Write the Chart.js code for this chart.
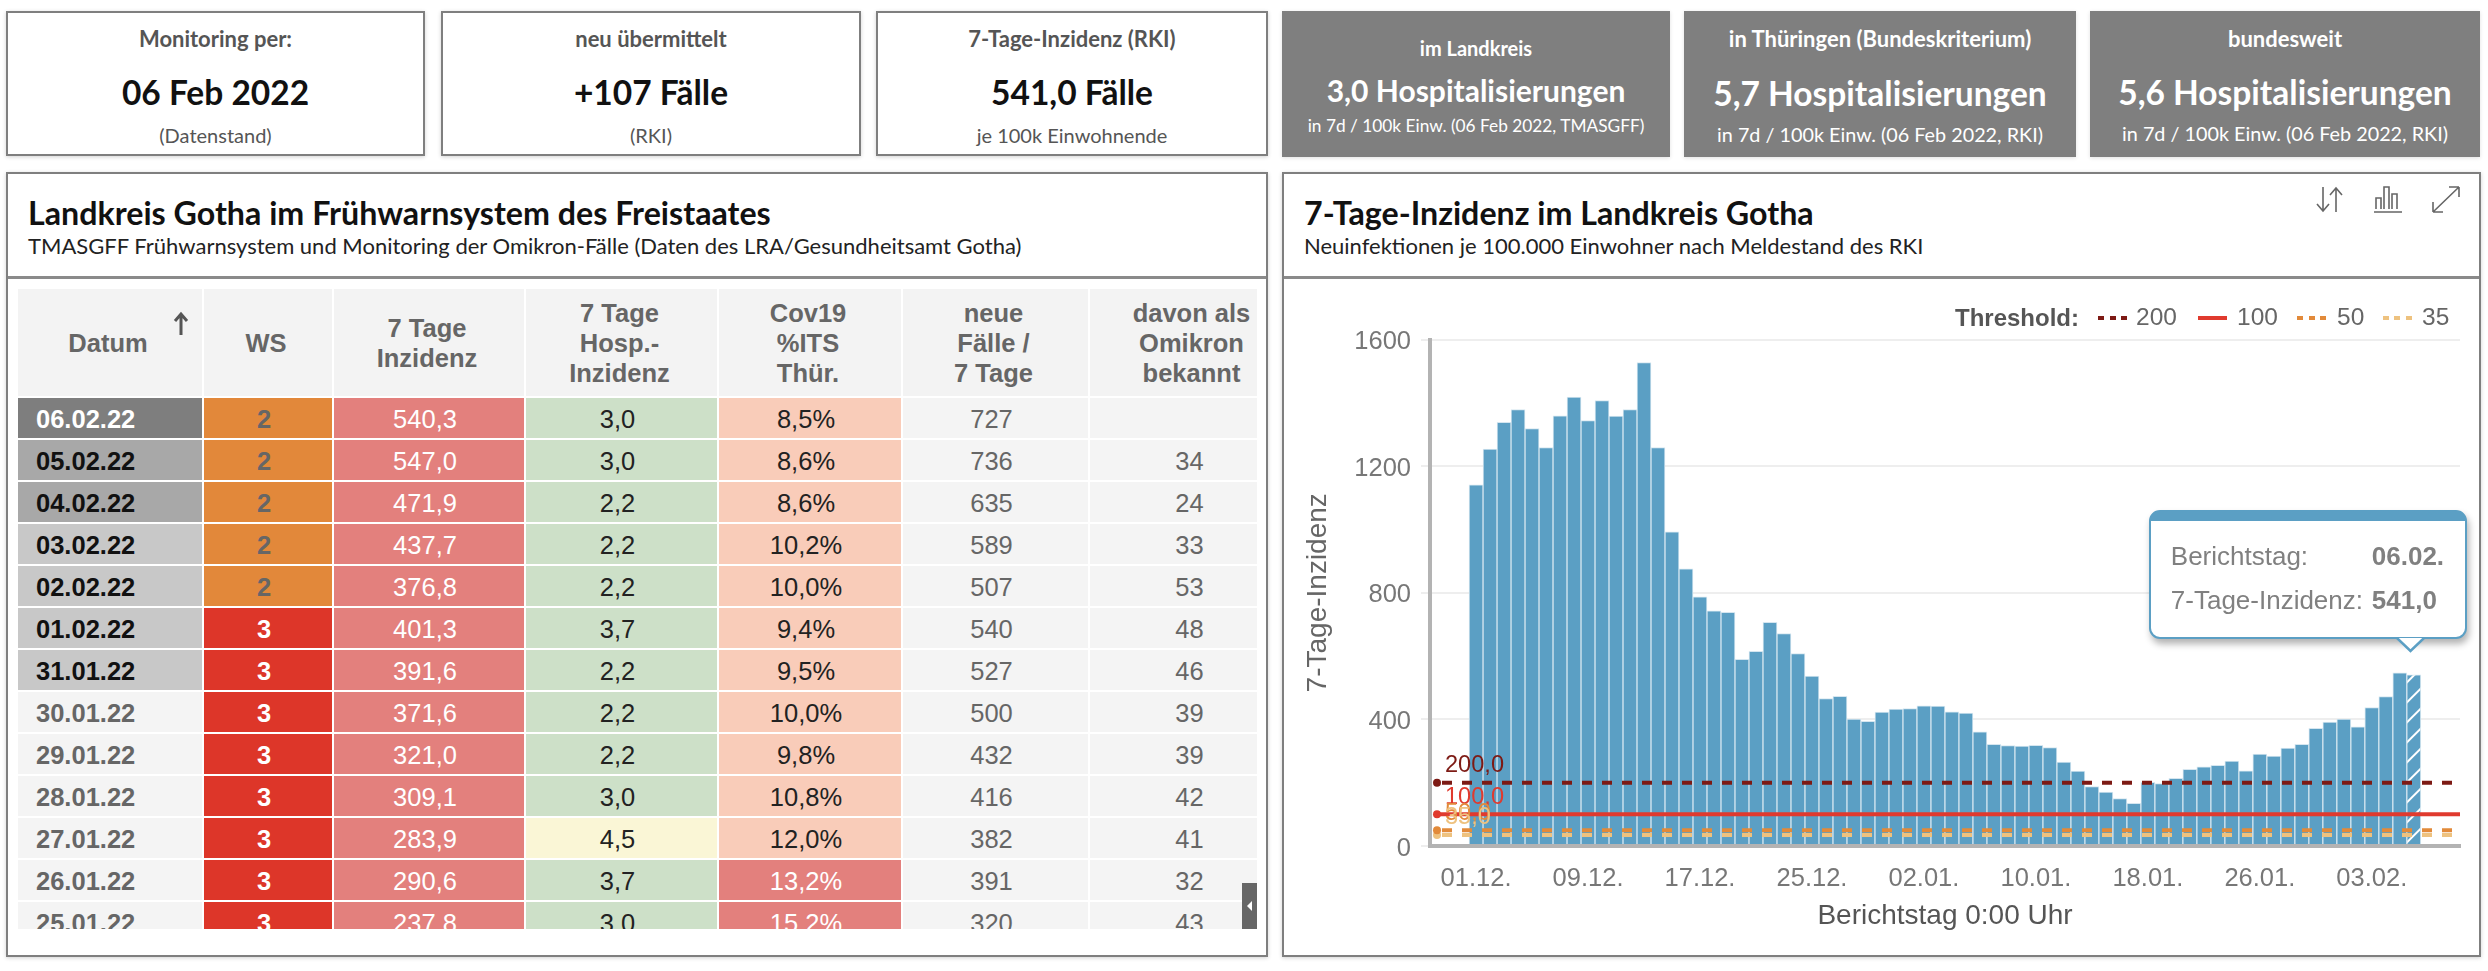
<!DOCTYPE html>
<html>
<head>
<meta charset="utf-8">
<title>Landkreis Gotha</title>
<script src="https://cdn.jsdelivr.net/npm/chart.js@4"></script>
<style>
  html, body { margin: 0; padding: 0; background: #fff; width: 2488px; height: 971px; overflow: hidden; font-family: Lato, sans-serif; color: #222; }
  .box { position: absolute; box-sizing: border-box; background: #fff; border: 2.5px solid #7f7f7f; box-shadow: 0 1px 4px rgba(0,0,0,.18); }
  .grey { border: 0; background: #7f7f7f; color: #fff; box-shadow: 0 1px 4px rgba(0,0,0,.12); }
  .line { position: absolute; left: 0; right: 0; text-align: center; transform: translateY(-50%); white-space: nowrap; line-height: 1; }
  .txt { position: absolute; white-space: nowrap; line-height: 1; transform: translateY(-50%); }
  .hr { position: absolute; height: 3px; background: #8a8a8a; }
  #tableWrap { position: absolute; left: 18px; top: 289px; width: 1239px; height: 640px; overflow: hidden; font-family: "Liberation Sans", Arial, sans-serif; }
  table { border-collapse: separate; border-spacing: 0; table-layout: fixed; width: 1279px; font-size: 25.5px; color: #666; }
  th, td { box-sizing: border-box; padding: 0; text-align: center; border-right: 2.5px solid #fff; border-bottom: 2px solid #fff; background: #f4f4f4; }
  th { height: 109.4px; font-weight: bold; font-size: 25.5px; line-height: 30px; background: #f3f3f3; padding-right: 4px; }
  td { height: 42px; padding-right: 8px; padding-top: 2px; }
  td.date { font-weight: bold; text-align: left; padding-left: 18px; padding-right: 0; }
  th:last-child, td:last-child { border-right: 0; }
  #scrollBtn { position: absolute; left: 1241.5px; top: 883px; width: 15.5px; height: 46px; background: #666; }
  #scrollBtn:after { content: ""; position: absolute; left: 5px; top: 18px; border: 5px solid transparent; border-right: 5px solid #fff; border-left: 0; }
  #sortArrow { position: absolute; left: 172px; top: 311px; }
  #chartBox { position: absolute; left: 1284px; top: 279px; }
  .legend { font-family: "Liberation Sans", Arial, sans-serif; font-size: 24.5px; color: #666; }
  .dash { position: absolute; height: 4px; }
  #tip { position: absolute; box-sizing: border-box; width: 318px; height: 129px; background: #fff; border: 2.5px solid #5b9fc4; border-top: 11px solid #5b9fc4; border-radius: 11px; box-shadow: 2px 5px 7px rgba(0,0,0,.3); font-family: "Liberation Sans", Arial, sans-serif; font-size: 26px; color: #808080; }
  #tipArrow { position: absolute; }
</style>
</head>
<body>

<div class="box" style="left:6px;top:11px;width:419px;height:145px">
  <div class="line" style="top:26px;font-size:22px;font-weight:bold;color:#555">Monitoring per:</div>
  <div class="line" style="top:80px;font-size:33.5px;font-weight:bold;color:#111">06 Feb 2022</div>
  <div class="line" style="top:122px;font-size:20px;color:#555">(Datenstand)</div>
</div>
<div class="box" style="left:441px;top:11px;width:420px;height:145px">
  <div class="line" style="top:26px;font-size:22px;font-weight:bold;color:#555">neu übermittelt</div>
  <div class="line" style="top:80px;font-size:33.5px;font-weight:bold;color:#111">+107 Fälle</div>
  <div class="line" style="top:122px;font-size:20px;color:#555">(RKI)</div>
</div>
<div class="box" style="left:876px;top:11px;width:392px;height:145px">
  <div class="line" style="top:26px;font-size:22px;font-weight:bold;color:#555">7-Tage-Inzidenz (RKI)</div>
  <div class="line" style="top:80px;font-size:33.5px;font-weight:bold;color:#111">541,0 Fälle</div>
  <div class="line" style="top:122px;font-size:20px;color:#555">je 100k Einwohnende</div>
</div>

<div class="box grey" style="left:1282px;top:11px;width:388px;height:146px">
  <div class="line" style="top:37px;font-size:20px;font-weight:bold">im Landkreis</div>
  <div class="line" style="top:79px;font-size:30px;font-weight:bold">3,0 Hospitalisierungen</div>
  <div class="line" style="top:115px;font-size:17.3px">in 7d / 100k Einw. (06 Feb 2022, TMASGFF)</div>
</div>
<div class="box grey" style="left:1684px;top:11px;width:392px;height:146px">
  <div class="line" style="top:28px;font-size:22px;font-weight:bold">in Thüringen (Bundeskriterium)</div>
  <div class="line" style="top:83px;font-size:33.5px;font-weight:bold">5,7 Hospitalisierungen</div>
  <div class="line" style="top:124px;font-size:19.8px">in 7d / 100k Einw. (06 Feb 2022, RKI)</div>
</div>
<div class="box grey" style="left:2090px;top:11px;width:390px;height:146px">
  <div class="line" style="top:28px;font-size:22px;font-weight:bold">bundesweit</div>
  <div class="line" style="top:82px;font-size:33.5px;font-weight:bold">5,6 Hospitalisierungen</div>
  <div class="line" style="top:123px;font-size:19.8px">in 7d / 100k Einw. (06 Feb 2022, RKI)</div>
</div>

<div class="box" style="left:6px;top:172px;width:1262px;height:785px"></div>
<div class="box" style="left:1282px;top:172px;width:1199px;height:785px"></div>
<div class="hr" style="left:8px;top:276px;width:1258px"></div>
<div class="hr" style="left:1284px;top:276px;width:1195px"></div>

<div class="txt" style="left:28px;top:213px;font-size:32.2px;font-weight:bold;color:#111">Landkreis Gotha im Frühwarnsystem des Freistaates</div>
<div class="txt" style="left:28px;top:246px;font-size:22px;color:#222">TMASGFF Frühwarnsystem und Monitoring der Omikron-Fälle (Daten des LRA/Gesundheitsamt Gotha)</div>
<div class="txt" style="left:1304px;top:213px;font-size:32.2px;font-weight:bold;color:#111">7-Tage-Inzidenz im Landkreis Gotha</div>
<div class="txt" style="left:1304px;top:246px;font-size:22px;color:#222">Neuinfektionen je 100.000 Einwohner nach Meldestand des RKI</div>

<svg style="position:absolute;left:2315px;top:184px" width="150" height="32" fill="none" stroke="#666" stroke-width="1.6">
  <path d="M8 3v23M2 20l6 7 6-7M21 28V5M15 11l6-7 6 7"/>
  <path d="M59 28h28M61 25V14h5v11M69 25V3h5v22M77 25V10h5v15"/>
  <path d="M118 28V18M118 28h10M118 28l26-25M144 3h-10M144 3v10"/>
</svg>

<div id="tableWrap"><table id="tbl"></table></div>
<div id="scrollBtn"></div>
<svg id="sortArrow" width="18" height="26" fill="none" stroke="#555" stroke-width="3"><path d="M9 24V3M3 10l6-7 6 7"/></svg>

<div id="chartBox"><canvas id="myChart" width="1195" height="675" style="width:1195px;height:675px"></canvas></div>

<div class="txt legend" style="left:1955px;top:318px;font-size:24px;font-weight:bold;color:#555">Threshold:</div>
<div class="dash" style="left:2098px;top:316px;width:29px;background:repeating-linear-gradient(90deg,#7d1a14 0 6px,transparent 6px 11.5px)"></div>
<div class="txt legend" style="left:2136px;top:317px">200</div>
<div class="dash" style="left:2198px;top:316px;width:29px;background:#e03a2e"></div>
<div class="txt legend" style="left:2237px;top:317px">100</div>
<div class="dash" style="left:2297px;top:316px;width:30px;background:repeating-linear-gradient(90deg,#e28a3a 0 6px,transparent 6px 11.5px)"></div>
<div class="txt legend" style="left:2337px;top:317px">50</div>
<div class="dash" style="left:2383px;top:316px;width:29px;background:repeating-linear-gradient(90deg,#eec27f 0 6px,transparent 6px 11.5px)"></div>
<div class="txt legend" style="left:2422px;top:317px">35</div>

<div id="tip">
  <div class="txt" style="left:20px;top:35px">Berichtstag:</div>
  <div class="txt" style="left:221px;top:35px;font-weight:bold">06.02.</div>
  <div class="txt" style="left:20px;top:79px">7-Tage-Inzidenz:</div>
  <div class="txt" style="left:221px;top:79px;font-weight:bold">541,0</div>
</div>
<svg id="tipArrow" width="30" height="16"><path d="M1 0L14.5 13L28 0" fill="#fff" stroke="#5b9fc4" stroke-width="2.5"/></svg>

<script>
//table data
const tableHeaders = ["Datum", "WS", "7 Tage<br>Inzidenz", "7 Tage<br>Hosp.-<br>Inzidenz", "Cov19<br>%ITS<br>Thür.", "neue<br>Fälle /<br>7 Tage", "davon als<br>Omikron<br>bekannt"];
const tableDates = ["06.02.22", "05.02.22", "04.02.22", "03.02.22", "02.02.22", "01.02.22", "31.01.22", "30.01.22", "29.01.22", "28.01.22", "27.01.22", "26.01.22", "25.01.22"];
const tableWs = [2, 2, 2, 2, 2, 3, 3, 3, 3, 3, 3, 3, 3];
const tableInzidenz = ["540,3", "547,0", "471,9", "437,7", "376,8", "401,3", "391,6", "371,6", "321,0", "309,1", "283,9", "290,6", "237,8"];
const tableHosp = ["3,0", "3,0", "2,2", "2,2", "2,2", "3,7", "2,2", "2,2", "2,2", "3,0", "4,5", "3,7", "3,0"];
const tableIts = ["8,5%", "8,6%", "8,6%", "10,2%", "10,0%", "9,4%", "9,5%", "10,0%", "9,8%", "10,8%", "12,0%", "13,2%", "15,2%"];
const tableCases = ["727", "736", "635", "589", "507", "540", "527", "500", "432", "416", "382", "391", "320"];
const tableOmikron = ["", "34", "24", "33", "53", "48", "46", "39", "39", "42", "41", "32", "43"];
const columnWidths = [186, 130, 192, 193, 184, 187, 207];

//chart data
const dayLabels = [
  "01.12.", "02.12.", "03.12.", "04.12.", "05.12.", "06.12.", "07.12.", "08.12.", "09.12.", "10.12.",
  "11.12.", "12.12.", "13.12.", "14.12.", "15.12.", "16.12.", "17.12.", "18.12.", "19.12.", "20.12.",
  "21.12.", "22.12.", "23.12.", "24.12.", "25.12.", "26.12.", "27.12.", "28.12.", "29.12.", "30.12.",
  "31.12.", "01.01.", "02.01.", "03.01.", "04.01.", "05.01.", "06.01.", "07.01.", "08.01.", "09.01.",
  "10.01.", "11.01.", "12.01.", "13.01.", "14.01.", "15.01.", "16.01.", "17.01.", "18.01.", "19.01.",
  "20.01.", "21.01.", "22.01.", "23.01.", "24.01.", "25.01.", "26.01.", "27.01.", "28.01.", "29.01.",
  "30.01.", "31.01.", "01.02.", "02.02.", "03.02.", "04.02.", "05.02.", "06.02."
];
const incidence = [
  1141, 1254, 1339, 1379, 1319, 1259, 1359, 1418, 1344, 1407,
  1358, 1379, 1527, 1259, 993, 876, 787, 743, 738, 590,
  615, 707, 671, 608, 537, 466, 473, 401, 394, 423,
  433, 434, 443, 442, 424, 420, 361, 321, 317, 316,
  318, 311, 265, 237, 188, 170, 150, 135, 201, 197,
  214, 242, 250, 255, 268, 237.8, 290.6, 283.9, 309.1, 321.0,
  371.6, 391.6, 401.3, 376.8, 437.7, 471.9, 547.0, 541.0
];
const tickDays = [0, 8, 16, 24, 32, 40, 48, 56, 64];
const yTicks = [0, 400, 800, 1200, 1600];
const thresholds = [200, 100, 50, 35];
const thresholdLabels = ["200,0", "100,0", "50,0", "35,0"];
const thresholdColors = ["#7d1a14", "#e03a2e", "#e28a3a", "#eec27f"];
const thresholdDash = [[10, 10], [], [10, 10], [10, 10]];
const xStart = -3.29;
const xEnd = 70.3;
const lineStart = -2.79;

//table
const cellColors = { 2: "#e2883a", 3: "#dd3629" };
let tableHtml = "<colgroup>" + columnWidths.map((w) => `<col style="width:${w}px">`).join("") + "</colgroup>";
tableHtml += "<tr>" + tableHeaders.map((h) => `<th>${h}</th>`).join("") + "</tr>";
tableDates.forEach((d, i) => {
  let dateStyle = "";
  if (i === 0) dateStyle = "background:#7e7e7e;color:#fff";
  else if (i < 3) dateStyle = "background:#a8a8a8;color:#111";
  else if (i < 7) dateStyle = "background:#c8c8c8;color:#111";
  const wsColor = tableWs[i] === 3 ? "#fff" : "#666";
  const hospBg = tableHosp[i] === "4,5" ? "#faf6d6" : "#cde0c8";
  const itsPink = i >= 11;
  tableHtml += "<tr>" +
    `<td class="date" style="${dateStyle}">${d}</td>` +
    `<td style="background:${cellColors[tableWs[i]]};color:${wsColor};font-weight:bold">${tableWs[i]}</td>` +
    `<td style="background:#e3807d;color:#fff">${tableInzidenz[i]}</td>` +
    `<td style="background:${hospBg};color:#222">${tableHosp[i]}</td>` +
    `<td style="background:${itsPink ? "#e3807d" : "#f9ccb9"};color:${itsPink ? "#fff" : "#222"}">${tableIts[i]}</td>` +
    `<td>${tableCases[i]}</td>` +
    `<td>${tableOmikron[i]}</td>` +
    "</tr>";
});
document.getElementById("tbl").innerHTML = tableHtml;

//hatch for the last bar
const hatch = document.createElement("canvas");
hatch.width = 20;
hatch.height = 20;
const hc = hatch.getContext("2d");
hc.fillStyle = "#5b9fc4";
hc.fillRect(0, 0, 20, 20);
hc.strokeStyle = "#fff";
hc.lineWidth = 2;
hc.beginPath();
hc.moveTo(-2, 8.3);
hc.lineTo(8.3, -2);
hc.moveTo(-2, 28.3);
hc.lineTo(28.3, -2);
hc.stroke();
const ctx = document.getElementById("myChart").getContext("2d");
const hatchFill = ctx.createPattern(hatch, "repeat");

//threshold number labels and the tooltip box
const extras = {
  id: "extras",
  afterDatasetsDraw(chart) {
    const c = chart.ctx;
    const y = chart.scales.y;
    const x = chart.scales.x;
    c.save();
    c.font = '23.6px "Liberation Sans"';
    c.textBaseline = "middle";
    c.textAlign = "left";
    thresholds.forEach((t, i) => {
      c.fillStyle = thresholdColors[i];
      c.fillText(thresholdLabels[i], x.getPixelForValue(lineStart) + 8, y.getPixelForValue(t) - 17);
    });
    c.restore();
  },
  afterRender(chart) {
    const box = document.getElementById("chartBox");
    const px = box.offsetLeft + chart.scales.x.getPixelForValue(incidence.length - 1);
    const py = box.offsetTop + chart.scales.y.getPixelForValue(incidence[incidence.length - 1]);
    const tip = document.getElementById("tip");
    tip.style.left = px - 265 + "px";
    tip.style.top = py - 165 + "px";
    const arrow = document.getElementById("tipArrow");
    arrow.style.left = px - 17.5 + "px";
    arrow.style.top = py - 37 + "px";
  },
};

//chart
const datasets = thresholds.map((t, i) => ({
  type: "line",
  data: [{ x: lineStart, y: t }, { x: xEnd, y: t }],
  borderColor: thresholdColors[i],
  backgroundColor: thresholdColors[i],
  borderWidth: 4,
  borderDash: thresholdDash[i],
  borderDashOffset: 15,
  pointRadius: [4, 0],
  pointBorderWidth: 0,
  pointHoverRadius: 0,
  fill: false,
  order: i,
}));
datasets.push({
  type: "bar",
  data: incidence.map((v, i) => ({ x: i, y: v })),
  backgroundColor: incidence.map((v, i) => (i === incidence.length - 1 ? hatchFill : "#5b9fc4")),
  borderColor: "#d5e6f0",
  borderWidth: 1,
  barPercentage: 1,
  categoryPercentage: 1,
  order: 10,
});

new Chart(ctx, {
  type: "bar",
  data: { datasets: datasets },
  plugins: [extras],
  options: {
    responsive: false,
    animation: false,
    events: [],
    layout: { padding: { top: 60.6, right: 19, left: 0, bottom: 0 } },
    plugins: { legend: { display: false }, tooltip: { enabled: false } },
    scales: {
      x: {
        type: "linear",
        offset: false,
        min: xStart,
        max: xEnd,
        grid: { display: false, offset: false },
        border: { color: "#b3b3b3", width: 4, z: 1 },
        afterBuildTicks: (scale) => {
          scale.ticks = tickDays.map((d) => ({ value: d }));
        },
        afterFit: (scale) => {
          scale.height = 108;
        },
        ticks: {
          autoSkip: false,
          maxRotation: 0,
          padding: 10,
          color: "#777",
          font: { family: "Liberation Sans", size: 25.5 },
          callback: (v) => dayLabels[v],
        },
        title: {
          display: true,
          text: "Berichtstag 0:00 Uhr",
          color: "#555",
          font: { family: "Liberation Sans", size: 28 },
          padding: { top: 8, bottom: 21 },
        },
      },
      y: {
        min: 0,
        max: 1600,
        grid: { color: "#eeeeee", lineWidth: 2, tickLength: 9 },
        border: { color: "#b3b3b3", width: 4, z: 1 },
        afterBuildTicks: (scale) => {
          scale.ticks = yTicks.map((v) => ({ value: v }));
        },
        afterFit: (scale) => {
          scale.width = 146;
        },
        ticks: {
          padding: 10,
          color: "#777",
          font: { family: "Liberation Sans", size: 25.5, lineHeight: 0.2 },
          callback: (v) => ["", String(v)],
        },
        title: {
          display: true,
          text: "7-Tage-Inzidenz",
          color: "#666",
          font: { family: "Liberation Sans", size: 28 },
          padding: { top: 17, bottom: 0 },
        },
      },
    },
  },
});
</script>
</body>
</html>
